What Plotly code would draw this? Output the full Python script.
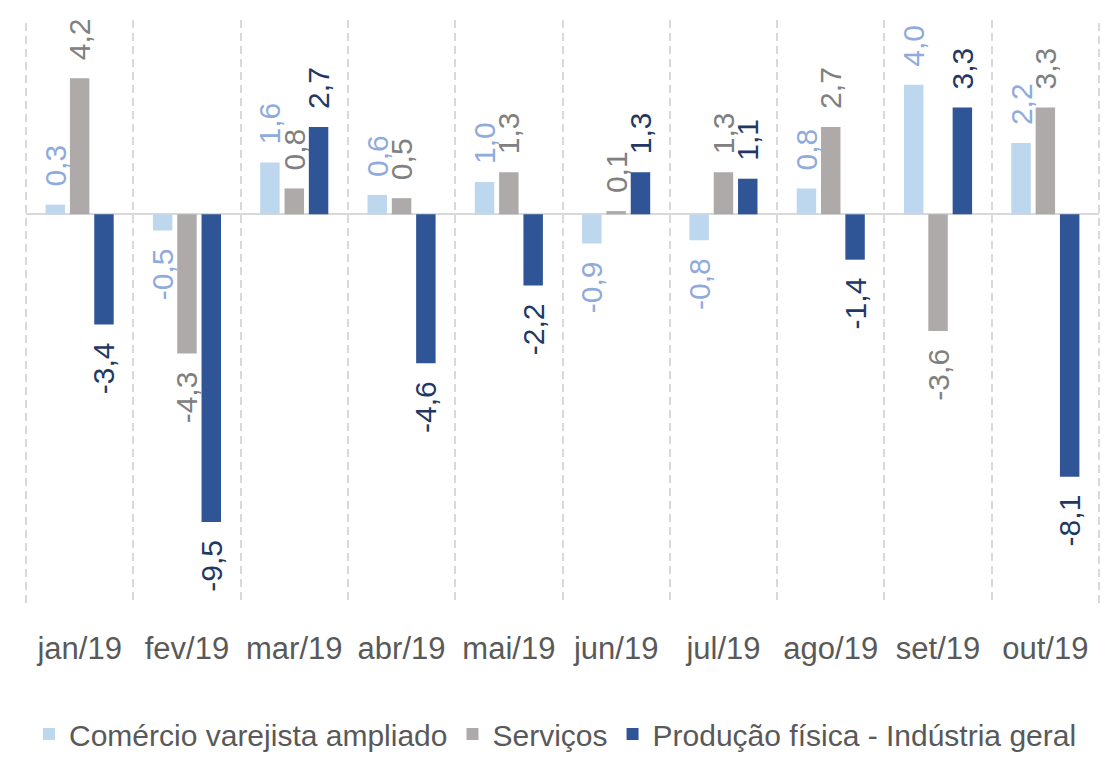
import plotly.graph_objects as go

months = ["jan/19", "fev/19", "mar/19", "abr/19", "mai/19",
          "jun/19", "jul/19", "ago/19", "set/19", "out/19"]
comercio = [0.3, -0.5, 1.6, 0.6, 1.0, -0.9, -0.8, 0.8, 4.0, 2.2]
servicos = [4.2, -4.3, 0.8, 0.5, 1.3, 0.1, 1.3, 2.7, -3.6, 3.3]
producao = [-3.4, -9.5, 2.7, -4.6, -2.2, 1.3, 1.1, -1.4, 3.3, -8.1]

series = [
    ("Comércio varejista ampliado", comercio, "#BDD7EE", "#8FAADC"),
    ("Serviços", servicos, "#AEAAAA", "#808080"),
    ("Produção física - Indústria geral", producao, "#2F5597", "#1F3864"),
]

FONT = "Liberation Sans, Arial, sans-serif"
PAD = "\u2002"
GRID = "#D9D9D9"


def fmt(v):
    s = f"{v:.1f}".replace(".", ",")
    return PAD + s if v >= 0 else s + PAD


fig = go.Figure()
for name, vals, color, tcolor in series:
    fig.add_trace(go.Bar(
        name=name, x=months, y=vals,
        marker=dict(color=color, line=dict(width=0)),
        text=[fmt(v) for v in vals],
        textposition="outside",
        textangle=-90,
        constraintext="none",
        cliponaxis=False,
        outsidetextfont=dict(family=FONT, size=30, color=tcolor),
        hoverinfo="skip",
    ))

# dashed borders at the outer category boundaries (plotly omits edge gridlines)
for xe in (0, 1):
    fig.add_shape(type="line", xref="paper", yref="paper", x0=xe, x1=xe, y0=0, y1=1,
                  line=dict(color=GRID, width=2, dash="8px,5px"), layer="below")

fig.update_layout(
    width=1095, height=752,
    margin=dict(l=18, r=4, t=12, b=157, autoexpand=False),
    paper_bgcolor="white", plot_bgcolor="white",
    barmode="group", bargap=0.32, bargroupgap=0.2,
    font=dict(family=FONT, size=31, color="#595959"),
    showlegend=True,
    legend=dict(orientation="h", xref="container", x=0.5, xanchor="center",
                yref="container", y=0.0, yanchor="bottom",
                font=dict(family=FONT, size=30, color="#595959"),
                itemwidth=30, traceorder="normal", tracegroupgap=0,
                bgcolor="rgba(0,0,0,0)"),
)
fig.update_xaxes(
    type="category", tickson="boundaries",
    showgrid=True, gridcolor=GRID, gridwidth=2, griddash="8px,5px",
    showline=False, zeroline=False,
    ticks="", ticklabelstandoff=24,
    tickfont=dict(family=FONT, size=31, color="#595959"),
)
fig.update_yaxes(
    range=[-12, 6], showgrid=False, showticklabels=False,
    zeroline=True, zerolinecolor=GRID, zerolinewidth=2,
    showline=False, ticks="",
)

fig.write_html("out.html")
